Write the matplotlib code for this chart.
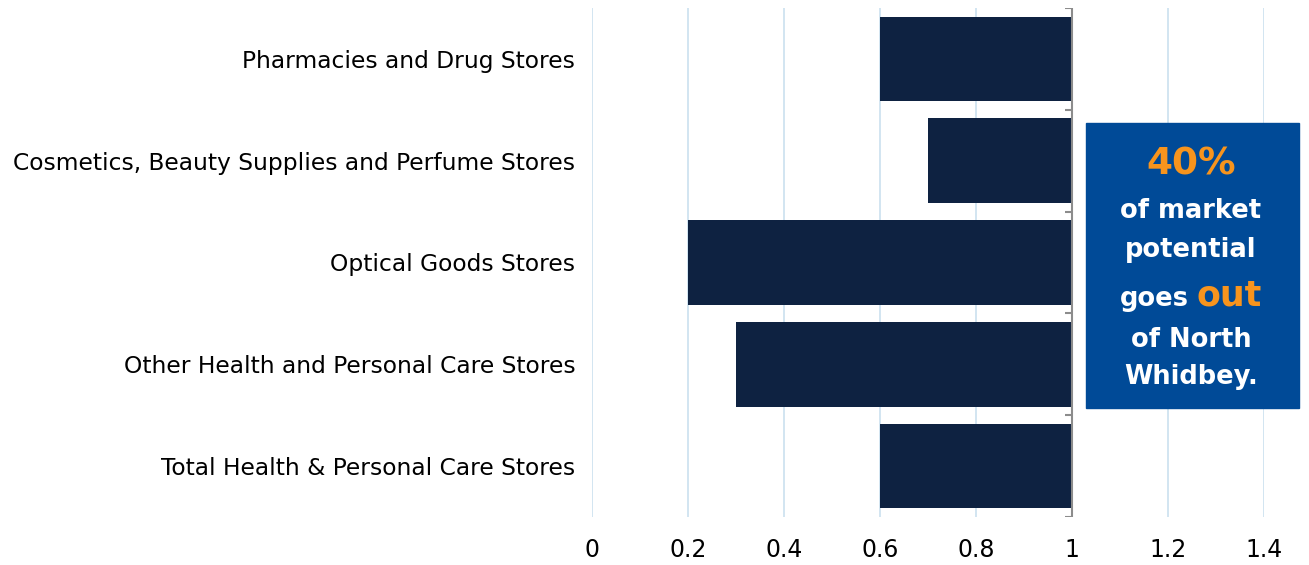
import numpy as np
import matplotlib
matplotlib.use('Agg')
import matplotlib.pyplot as plt
from matplotlib.patches import Rectangle

categories = ['Pharmacies and Drug Stores',
              'Cosmetics, Beauty Supplies and Perfume Stores',
              'Optical Goods Stores',
              'Other Health and Personal Care Stores',
              'Total Health & Personal Care Stores']
ratios = [0.6, 0.7, 0.2, 0.3, 0.6]
xticks = [0, 0.2, 0.4, 0.6, 0.8, 1, 1.2, 1.4]
xticklabels = ['0', '0.2', '0.4', '0.6', '0.8', '1', '1.2', '1.4']
baseline = 1.0

bar_col = '#0E2241'
grid_col = '#CFE3F0'
axis_col = '#8C8C8C'
box_col = '#004A97'
orange = '#F7941D'

plt.rcParams['font.family'] = ['DejaVu Sans']

W, H = 1309, 565
fig = plt.figure(figsize=(W / 100, H / 100), dpi=100)
ax = fig.add_axes([592 / W, 1 - 517 / H, (1264 - 592) / W, (517 - 8) / H])

y = np.arange(len(categories))
vals = np.array(ratios)
ax.barh(y, vals - baseline, left=baseline, height=0.83, color=bar_col, zorder=3)

ax.set_xlim(0, 1.4)
ax.set_ylim(len(categories) - 0.5, -0.5)
ax.set_xticks(xticks)
ax.set_xticklabels(xticklabels, fontsize=17)
ax.set_yticks(y)
ax.set_yticklabels(categories, fontsize=16.8)
ax.tick_params(axis='x', length=0, pad=15)
ax.tick_params(axis='y', length=0, pad=12)
ax.grid(axis='x', color=grid_col, linewidth=1.3, zorder=0)
for s in ax.spines.values():
    s.set_visible(False)

# category axis crosses at 1
ax.vlines(baseline, -0.5, len(categories) - 0.5, color=axis_col, linewidth=1.5, zorder=4)
bounds = np.arange(len(categories) + 1) - 0.5
ax.hlines(bounds, baseline - 0.014, baseline, color=axis_col, linewidth=1.5, zorder=4)

# callout box
fig.patches.append(Rectangle((1086 / W, 1 - 408 / H), (1299 - 1086) / W, (408 - 123) / H,
                             transform=fig.transFigure, color=box_col, zorder=5))
cx = 1191 / W
fig.text(cx, 1 - 164 / H, '40%', color=orange, fontsize=27, fontweight='bold',
         ha='center', va='center', zorder=6)
for txt, yy in [('of market', 211), ('potential', 250), ('of North', 340), ('Whidbey.', 377)]:
    fig.text(cx, 1 - yy / H, txt, color='white', fontsize=18.5, fontweight='bold',
             ha='center', va='center', zorder=6)
fig.text(1189 / W, 1 - 299 / H, 'goes', color='white', fontsize=18.5, fontweight='bold',
         ha='right', va='center', zorder=6)
fig.text(1197 / W, 1 - 296 / H, 'out', color=orange, fontsize=25, fontweight='bold',
         ha='left', va='center', zorder=6)

fig.savefig('out.png', dpi=100)
